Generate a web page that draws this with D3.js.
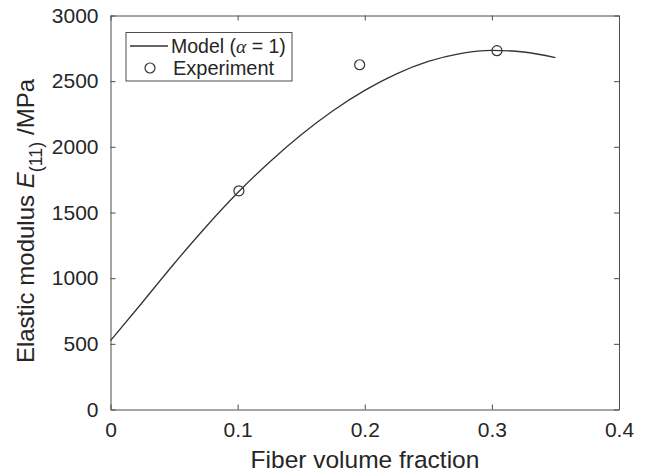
<!DOCTYPE html>
<html><head><meta charset="utf-8">
<script src="https://cdn.jsdelivr.net/npm/d3@7"></script>
<style>body{margin:0;background:#fff}svg{display:block;font-family:"Liberation Sans",Arial,sans-serif}</style>
</head><body>
<script>
// Model curve (alpha = 1)
const modelX = [0, 0.025, 0.05, 0.075, 0.1, 0.125, 0.15, 0.175, 0.2, 0.225, 0.25, 0.275, 0.3, 0.325, 0.35];
const modelY = [525, 815, 1110, 1390, 1650, 1883, 2092, 2275, 2430, 2556, 2650, 2710, 2735, 2722, 2680];
// Experiment points
const expX = [0.101, 0.196, 0.304];
const expY = [1665, 2625, 2732];
const xTicks = [0, 0.1, 0.2, 0.3, 0.4];
const yTicks = [0, 500, 1000, 1500, 2000, 2500, 3000];

const W = 646, H = 474;
const L = 110.5, R = 619, T = 15.5, B = 409.5;
const svg = d3.select("body").append("svg").attr("width", W).attr("height", H);
const x = d3.scaleLinear().domain([0, 0.4]).range([L, R]);
const y = d3.scaleLinear().domain([0, 3000]).range([B, T]);
const axisCol = "#4d4d4d", textCol = "#262626";

function style(g){
  g.select(".domain").attr("stroke", axisCol).attr("stroke-width", 1);
  g.selectAll(".tick line").attr("stroke", axisCol);
  g.selectAll(".tick text").attr("fill", textCol).attr("font-size", 21);
}
svg.append("g").attr("transform", `translate(0,${B})`)
  .call(d3.axisBottom(x).tickValues(xTicks).tickFormat(d => String(d)).tickSizeInner(-5).tickSizeOuter(0).tickPadding(13))
  .call(style);
svg.append("g").attr("transform", `translate(${L},0)`)
  .call(d3.axisLeft(y).tickValues(yTicks).tickFormat(d => String(d)).tickSizeInner(-5).tickSizeOuter(0).tickPadding(12))
  .call(style);
svg.append("g").attr("transform", `translate(0,${T})`)
  .call(d3.axisTop(x).tickValues(xTicks).tickFormat("").tickSizeInner(-5).tickSizeOuter(0))
  .call(style);
svg.append("g").attr("transform", `translate(${R},0)`)
  .call(d3.axisRight(y).tickValues(yTicks).tickFormat("").tickSizeInner(-5).tickSizeOuter(0))
  .call(style);

// model line
const line = d3.line().curve(d3.curveMonotoneX).x(d => x(d[0])).y(d => y(d[1]));
svg.append("path").datum(modelX.map((v, i) => [v, modelY[i]]))
  .attr("d", line).attr("fill", "none").attr("stroke", "#333").attr("stroke-width", 1.3);

// experiment markers
svg.selectAll("circle.exp").data(expX.map((v, i) => [v, expY[i]])).enter()
  .append("circle").attr("class", "exp")
  .attr("cx", d => x(d[0])).attr("cy", d => y(d[1])).attr("r", 5)
  .attr("fill", "none").attr("stroke", "#333").attr("stroke-width", 1.2);

// legend
const lg = svg.append("g");
lg.append("rect").attr("x", 126).attr("y", 32.5).attr("width", 166).attr("height", 48.5)
  .attr("fill", "#fff").attr("stroke", axisCol).attr("stroke-width", 1);
lg.append("line").attr("x1", 130).attr("x2", 168).attr("y1", 46).attr("y2", 46).attr("stroke", "#333").attr("stroke-width", 1.3);
const t1 = lg.append("text").attr("x", 171).attr("y", 53).attr("font-size", 19.5).attr("fill", textCol);
t1.append("tspan").text("Model (");
t1.append("tspan").attr("font-family", "'Liberation Serif',serif").attr("font-style", "italic").text("α");
t1.append("tspan").text(" = 1)");
lg.append("circle").attr("cx", 150).attr("cy", 68).attr("r", 5).attr("fill", "none").attr("stroke", "#333").attr("stroke-width", 1.2);
lg.append("text").attr("x", 173).attr("y", 75).attr("font-size", 20).attr("fill", textCol).text("Experiment");

// axis titles
svg.append("text").attr("x", 365).attr("y", 468).attr("text-anchor", "middle")
  .attr("font-size", 24.5).attr("fill", textCol).text("Fiber volume fraction");
const yt = svg.append("text").attr("transform", "translate(34,221) rotate(-90)").attr("text-anchor", "middle")
  .attr("font-size", 24).attr("fill", textCol);
yt.append("tspan").text("Elastic modulus ");
yt.append("tspan").attr("font-style", "italic").text("E");
yt.append("tspan").attr("font-size", 18).attr("dy", 8).text("(11)");
yt.append("tspan").attr("dy", -8).text(" /MPa");
</script>
</body></html>
